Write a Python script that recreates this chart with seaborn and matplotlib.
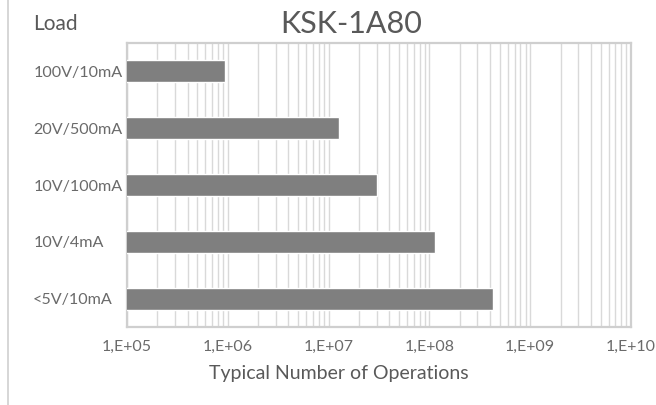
import matplotlib
matplotlib.use("Agg")
import matplotlib.pyplot as plt
from matplotlib.lines import Line2D
from matplotlib.ticker import LogLocator, FixedLocator, FixedFormatter, NullFormatter
import pandas as pd
import seaborn as sns

# data
loads = ["100V/10mA", "20V/500mA", "10V/100mA", "10V/4mA", "<5V/10mA"]
operations = [9.3e5, 1.28e7, 3.05e7, 1.14e8, 4.3e8]
xtick_values = [1e5, 1e6, 1e7, 1e8, 1e9, 1e10]
xtick_labels = ["1,E+05", "1,E+06", "1,E+07", "1,E+08", "1,E+09", "1,E+10"]

data = pd.DataFrame({"Load": loads, "Operations": operations})

sns.set_theme(style="white")
plt.rcParams["font.family"] = ["Lato", "DejaVu Sans"]

fig = plt.figure(figsize=(6.56, 4.05), dpi=100)
ax = fig.add_axes([127 / 656, 1 - 327 / 405, 504 / 656, 284 / 405])

sns.barplot(data=data, x="Operations", y="Load", orient="h", color="#7f7f7f",
            width=0.39, saturation=1, ax=ax, zorder=3)
ax.set_xscale("log")
ax.set_xlim(1e5, 1e10)
ax.set_ylim(4.5, -0.5)

# grid lines
ax.xaxis.set_major_locator(FixedLocator(xtick_values))
ax.xaxis.set_major_formatter(FixedFormatter(xtick_labels))
ax.xaxis.set_minor_locator(LogLocator(base=10, subs=range(2, 10)))
ax.xaxis.set_minor_formatter(NullFormatter())
ax.grid(axis="x", which="both", color="#d9d9d9", linewidth=1.0, zorder=0)
ax.set_axisbelow(True)

for side in ax.spines.values():
    side.set_color("#cfcfcf")
    side.set_linewidth(1.6)

ax.tick_params(axis="x", which="both", length=0, pad=9, labelsize=11.5,
               labelcolor="#6a6a6a")
ax.tick_params(axis="y", length=0, pad=67.5, labelsize=11.6, labelcolor="#6a6a6a")
for lbl in ax.get_yticklabels():
    lbl.set_ha("left")

ax.set_xlabel("")
ax.set_ylabel("")

fig.text(351 / 656, 1 - 24 / 405, "KSK-1A80", ha="center", va="center",
         fontsize=22, color="#595959")
fig.text(33 / 656, 1 - 24 / 405, "Load", ha="left", va="center",
         fontsize=15, color="#595959")
fig.text(339 / 656, 1 - 373 / 405, "Typical Number of Operations", ha="center",
         va="center", fontsize=14, color="#595959")

# chart area border on the left
fig.add_artist(Line2D([8 / 656, 8 / 656], [0, 1], color="#d0d0d0", linewidth=1.2))

fig.savefig("out.png", dpi=100, facecolor="white")
